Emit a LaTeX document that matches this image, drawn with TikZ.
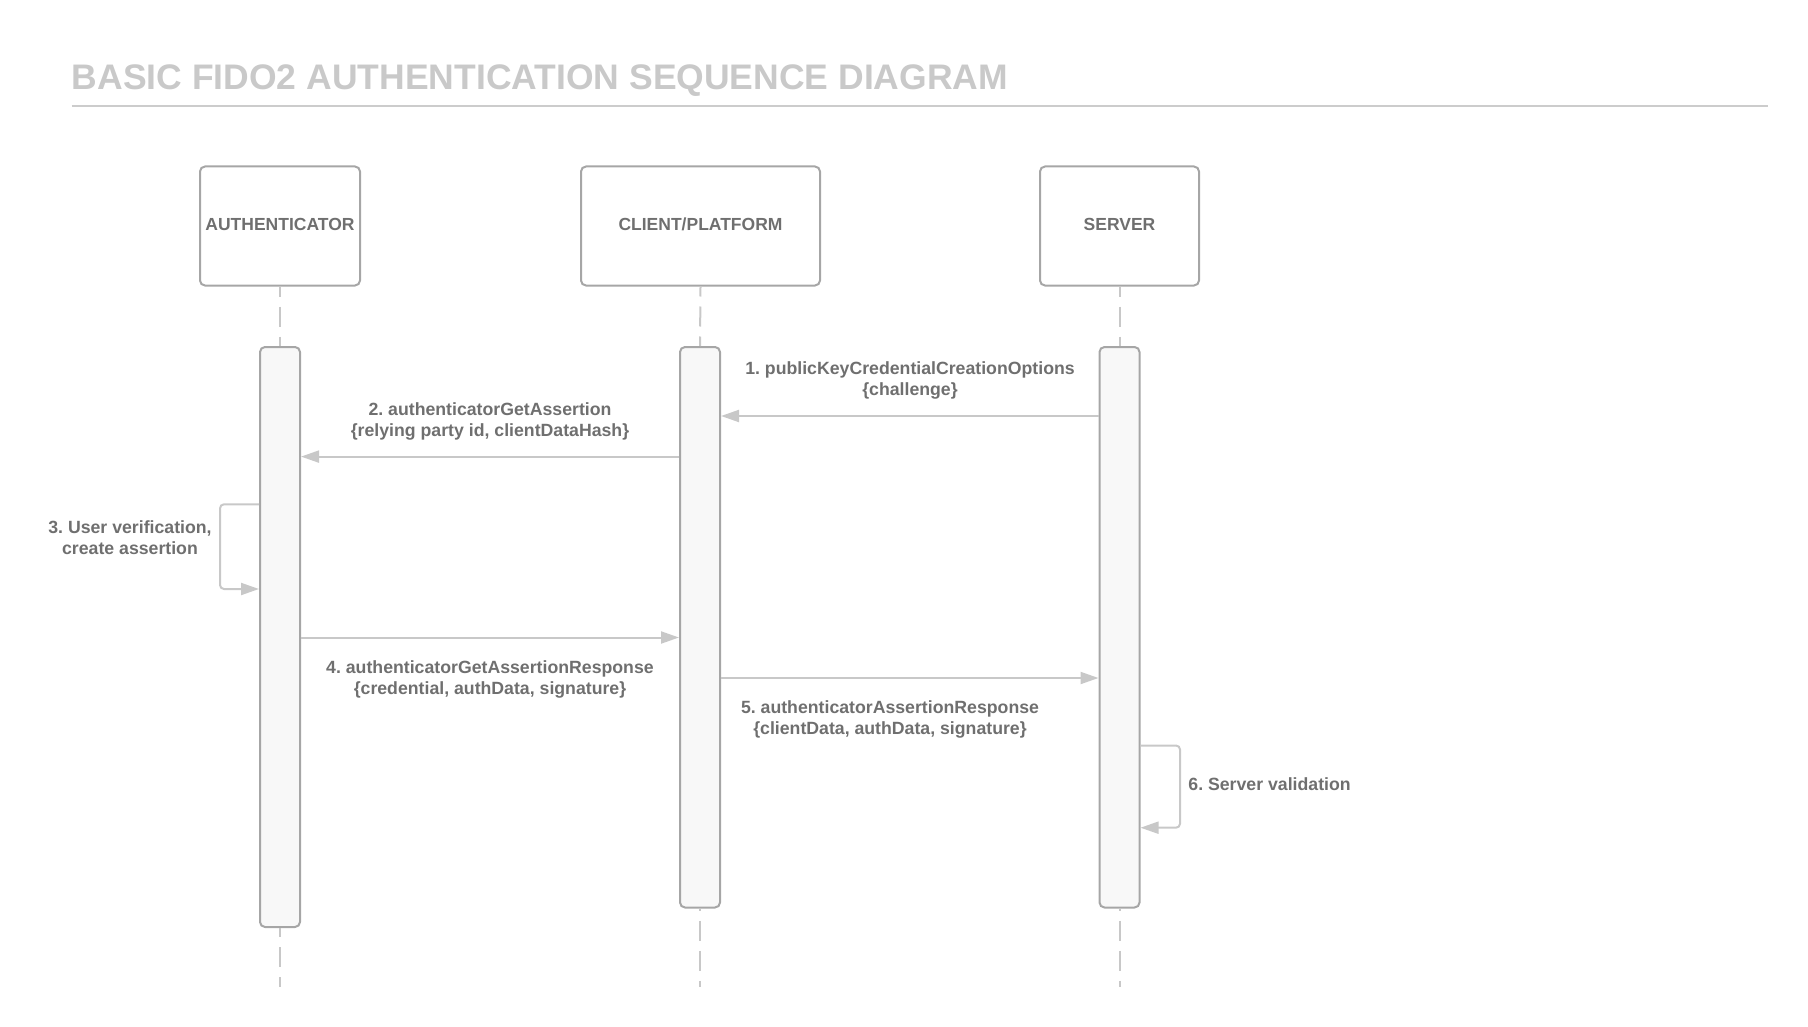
\documentclass[tikz,border=0pt]{standalone}
\usepackage{fontspec}
\setmainfont{Liberation Sans}
\usetikzlibrary{arrows.meta}
\definecolor{titlegray}{HTML}{C9C9C9}
\definecolor{rulegray}{HTML}{CCCCCC}
\definecolor{boxgray}{HTML}{A6A6A6}
\definecolor{textgray}{HTML}{6F6F6F}
\definecolor{linegray}{HTML}{C8C8C8}
\definecolor{barfill}{HTML}{F8F8F8}
\begin{document}
\frenchspacing
\begin{tikzpicture}[x=0.5pt,y=-0.5pt,
  actor/.style={draw=boxgray, line width=1pt, rounded corners=2.5pt, inner sep=0pt,
    minimum height=59.5pt, text=textgray, font=\bfseries\fontsize{8.75}{10.5}\selectfont,
    text height=0.72em, text depth=0.25em},
  bar/.style={draw=boxgray, fill=barfill, line width=1pt, rounded corners=2.5pt, inner sep=0pt,
    minimum width=20pt},
  life/.style={draw=linegray, line width=1pt, dash pattern=on 10pt off 5pt},
  msg/.style={draw=linegray, line width=1pt, -{Triangle[length=9pt,width=6pt]}},
  loopmsg/.style={msg, rounded corners=2pt},
  lbl/.style={text=textgray, font=\bfseries\fontsize{8.85}{10.5}\selectfont, align=center, inner sep=0pt, anchor=base}
]
\useasboundingbox (0,0) rectangle (1808,1027);
% title
\node[anchor=base west, inner sep=0pt, text=titlegray, font=\bfseries\fontsize{17.75}{21}\selectfont] (title) at (71.5,90) {BASIC FIDO2 AUTHENTICATION SEQUENCE DIAGRAM};
\coordinate (ruleL) at (71.5,106);
\coordinate (ruleR) at (1768,106);
\draw[rulegray, line width=1pt] (ruleL) -- (ruleR);
% actors
\node[actor, minimum width=80pt] (auth) at (280,226) {AUTHENTICATOR};
\node[actor, minimum width=119.5pt] (client) at (700.5,226) {CLIENT/PLATFORM};
\node[actor, minimum width=79.5pt] (server) at (1119.5,226) {SERVER};
% activation bars
\node[bar, minimum height=290pt] (authbar) at (280,637) {};
\node[bar, minimum height=280.25pt] (clientbar) at (700,627.25) {};
\node[bar, minimum height=280.25pt] (serverbar) at (1119.5,627.25) {};
% lifelines
\coordinate (authend) at (280,987);
\coordinate (clientend) at (700,987);
\coordinate (serverend) at (1119.5,987);
\draw[life, dash phase=5pt] (auth.south) -- (authbar.north);
\draw[life, dash phase=5pt] (client.south) -- (clientbar.north);
\draw[life, dash phase=5pt] (server.south) -- (serverbar.north);
\draw[life, dash phase=5.5pt] (authbar.south) -- (authend);
\draw[life, dash phase=9pt] (clientbar.south) -- (clientend);
\draw[life, dash phase=9pt] (serverbar.south) -- (serverend);
% message heights
\coordinate (m1) at (0,416);
\coordinate (m2) at (0,456.6);
\coordinate (m4) at (0,637.5);
\coordinate (m5) at (0,678);
\coordinate (l3a) at (220,504.3);
\coordinate (l3b) at (220,589);
\coordinate (l6a) at (1180,745.5);
\coordinate (l6b) at (1180,827.7);
% 1
\draw[msg] (serverbar.west |- m1) -- (clientbar.east |- m1);
\node[lbl] (t1) at (910,395.3) {1. publicKeyCredentialCreationOptions\\{\char`\{}challenge{\char`\}}};
% 2
\draw[msg] (clientbar.west |- m2) -- (authbar.east |- m2);
\node[lbl] (t2) at (490,436) {2. authenticatorGetAssertion\\{\char`\{}relying party id, clientDataHash{\char`\}}};
% 3
\draw[loopmsg] (authbar.west |- l3a) -- (l3a) -- (l3b) -- (authbar.west |- l3b);
\node[lbl] (t3) at (130,554.5) {3. User verification,\\create assertion};
% 4
\draw[msg] (authbar.east |- m4) -- (clientbar.west |- m4);
\node[lbl] (t4) at (490,694.3) {4. authenticatorGetAssertionResponse\\{\char`\{}credential, authData, signature{\char`\}}};
% 5
\draw[msg] (clientbar.east |- m5) -- (serverbar.west |- m5);
\node[lbl] (t5) at (890,734) {5. authenticatorAssertionResponse\\{\char`\{}clientData, authData, signature{\char`\}}};
% 6
\draw[loopmsg] (serverbar.east |- l6a) -- (l6a) -- (l6b) -- (serverbar.east |- l6b);
\node[lbl, anchor=base west] (t6) at (1188,790.7) {6. Server validation};
\end{tikzpicture}
\end{document}
